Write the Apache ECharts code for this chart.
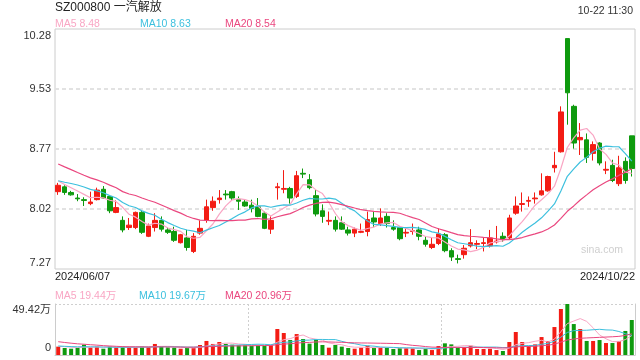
<!DOCTYPE html>
<html><head><meta charset="utf-8">
<script src="https://cdn.jsdelivr.net/npm/echarts@6/dist/echarts.min.js"></script>
<style>html,body{margin:0;padding:0;background:#fff}#c{width:640px;height:360px}</style>
</head><body><div id="c"></div>
<script>
const dates = ['06-07','06-11','06-12','06-13','06-14','06-17','06-18','06-19','06-20','06-21','06-24','06-25','06-26','06-27','06-28',
'07-01','07-02','07-03','07-04','07-05','07-08','07-09','07-10','07-11','07-12','07-15','07-16','07-17','07-18','07-19','07-22','07-23','07-24','07-25','07-26','07-29','07-30','07-31',
'08-01','08-02','08-05','08-06','08-07','08-08','08-09','08-12','08-13','08-14','08-15','08-16','08-19','08-20','08-21','08-22','08-23','08-26','08-27','08-28','08-29','08-30',
'09-02','09-03','09-04','09-05','09-06','09-09','09-10','09-11','09-12','09-13','09-18','09-19','09-20','09-23','09-24','09-25','09-26','09-27','09-30',
'10-08','10-09','10-10','10-11','10-14','10-15','10-16','10-17','10-18','10-21','10-22'];

const opens = [8.24,8.30,8.23,8.16,8.14,8.09,8.14,8.27,8.18,7.98,
7.88,7.79,7.79,7.98,7.68,7.79,7.88,7.76,7.74,7.60,
7.66,7.49,7.72,7.88,8.04,8.14,8.21,8.24,8.14,8.11,
8.07,8.05,7.97,7.77,8.29,8.27,8.28,8.18,8.47,8.39,
8.19,8.00,7.87,7.88,7.85,7.76,7.72,7.73,7.74,7.91,
7.84,7.93,7.79,7.79,7.72,7.74,7.76,7.63,7.54,7.59,
7.70,7.50,7.40,7.45,7.56,7.58,7.59,7.56,7.61,7.68,
7.66,7.97,8.08,8.12,8.15,8.20,8.25,8.54,8.74,10.16,
9.31,8.89,8.89,8.72,8.85,8.51,8.57,8.34,8.62,8.94];

const closes = [8.32,8.23,8.20,8.15,8.13,8.11,8.26,8.16,8.00,8.04,
7.76,7.82,7.98,7.73,7.81,7.88,7.77,7.73,7.63,7.70,
7.54,7.68,7.78,8.05,8.12,8.16,8.20,8.16,8.12,8.06,
8.03,7.93,7.78,7.88,8.30,8.28,8.16,8.44,8.46,8.29,
7.96,7.93,7.88,7.77,7.77,7.72,7.77,7.74,7.89,7.86,
7.91,7.84,7.77,7.65,7.73,7.75,7.68,7.58,7.58,7.71,
7.50,7.42,7.39,7.53,7.60,7.59,7.60,7.66,7.62,7.64,
7.91,8.06,8.09,8.13,8.16,8.25,8.43,8.57,9.24,9.48,
8.85,8.92,8.67,8.83,8.60,8.52,8.38,8.54,8.38,8.53];

const lows = [8.20,8.20,8.19,8.12,8.06,8.07,8.13,8.15,7.97,7.97,
7.73,7.76,7.77,7.71,7.67,7.74,7.74,7.71,7.61,7.59,
7.50,7.47,7.70,7.85,8.00,8.09,8.14,8.13,8.01,8.05,
7.98,7.92,7.77,7.71,8.14,8.22,8.09,8.16,8.41,8.27,
7.93,7.85,7.82,7.74,7.76,7.69,7.67,7.72,7.68,7.80,
7.81,7.79,7.75,7.63,7.67,7.70,7.63,7.55,7.52,7.57,
7.48,7.37,7.34,7.40,7.54,7.52,7.49,7.54,7.59,7.61,
7.64,7.95,7.99,8.05,8.09,8.19,8.24,8.48,8.73,9.08,
8.78,8.70,8.60,8.63,8.57,8.46,8.36,8.31,8.34,8.43];

const highs = [8.35,8.32,8.25,8.21,8.17,8.24,8.29,8.31,8.19,8.13,
7.93,7.91,7.99,8.00,7.84,7.97,7.93,7.79,7.80,7.71,
7.76,7.72,7.88,8.14,8.18,8.26,8.26,8.25,8.18,8.14,
8.14,8.16,7.99,7.93,8.35,8.51,8.30,8.50,8.53,8.46,
8.26,8.08,7.99,7.93,7.93,7.80,7.79,7.84,7.99,7.99,
8.03,7.97,7.88,7.80,7.78,7.84,7.80,7.68,7.66,7.78,
7.72,7.53,7.45,7.57,7.77,7.63,7.66,7.76,7.81,7.73,
7.95,8.18,8.23,8.18,8.23,8.47,8.44,8.74,9.31,10.16,
9.33,9.10,8.97,8.87,8.86,8.62,8.64,8.69,8.67,8.94];

// closes of the 19 sessions before the first shown day (estimated, only feed the moving averages)
const prevCloses = [8.95,8.90,8.86,8.82,8.78,8.76,8.74,8.72,8.70,8.74,8.42,8.36,8.34,8.38,8.40,8.45,8.40,8.36,8.34];

// volume in 万手
const volumes = [8.1,6.8,6.1,6.8,10.0,7.4,8.1,6.1,8.4,7.4,
8.1,7.4,7.1,8.1,7.8,10.7,8.1,7.4,7.1,6.1,
6.8,7.1,9.7,13.6,10.7,12.6,10.7,10.0,9.4,9.4,
9.0,9.4,8.7,9.4,25.2,21.3,14.5,20.3,15.5,11.0,
15.2,9.7,7.1,9.7,8.1,6.8,6.1,7.1,9.0,6.8,
7.1,7.1,5.8,6.8,6.8,6.5,4.8,6.1,4.8,8.7,
11.3,10.3,7.1,7.8,9.0,5.8,5.8,6.1,4.8,3.9,
12.6,22.3,12.6,8.7,10.3,17.4,13.6,27.1,44.6,49.42,
30.0,25.2,13.6,13.6,14.5,11.6,11.6,13.6,23.3,33.9];
const prevVolumes = [22,20,19,18,17,16,16,15,14,14,9.5,9.0,8.8,9.2,8.4,8.5,8.6,8.4,8.5];

const priceMin = 7.27, priceMax = 10.28;
const priceTickLabels = ['7.27','8.02','8.77','9.53','10.28'];
const volMax = 49.42;
const volTickLabels = ['0','49.42万'];
const maNames = ['MA5','MA10','MA20'];
const maPeriods = [5,10,20];
const maLegend = ['8.48','8.63','8.54'];
const volMaLegend = ['19.44万','19.67万','20.96万'];
const titleText = 'SZ000800 一汽解放';
const timeText = '10-22 11:30';
const startText = '2024/06/07', endText = '2024/10/22';
const watermark = 'sina.com';

const RED = '#f31c14', GREEN = '#0e9a0e';
const MA_COLORS = ['#f9a6c4','#3dc0de','#ea477f'];
const FONT = '"Liberation Sans", Arial, "Noto Sans CJK SC", sans-serif';

function movingAvg(prev, vals, n) {
  const all = prev.concat(vals), off = prev.length;
  return vals.map((_, i) => { let s = 0; for (let k = 0; k < n; k++) s += all[off + i - k]; return +(s / n).toFixed(4); });
}
const priceTicks = priceTickLabels.map((_, k) => priceMin + k * (priceMax - priceMin) / (priceTickLabels.length - 1));
const volTicks = [0, volMax];

const candleData = opens.map((o, i) => [o, closes[i], lows[i], highs[i]]);
const volData = volumes.map((v, i) => ({ value: v, itemStyle: { color: closes[i] > opens[i] ? RED : GREEN } }));

function tickLabelFmt(ticks, labels) {
  return function (v) {
    let best = 0;
    ticks.forEach((t, k) => { if (Math.abs(t - v) < Math.abs(ticks[best] - v)) best = k; });
    if (best === ticks.length - 1) return '{t|' + labels[best] + '}';
    if (best === 0) return '{b|' + labels[best] + '}';
    return '{m|' + labels[best] + '}';
  };
}
const lblBase = { fontSize: 11, color: '#333', fontFamily: FONT };
const richPrice = { t: Object.assign({ padding: [14, 0, 0, 0] }, lblBase), b: Object.assign({ padding: [0, 0, 12, 0] }, lblBase), m: Object.assign({}, lblBase) };
const richVol = { t: Object.assign({ padding: [12, 0, 0, 0] }, lblBase), b: Object.assign({ padding: [0, 0, 14, 0] }, lblBase), m: Object.assign({}, lblBase) };

const series = [{
  type: 'candlestick', xAxisIndex: 0, yAxisIndex: 0, data: candleData, barWidth: 5,
  itemStyle: { color: RED, color0: GREEN, borderColor: RED, borderColor0: GREEN, borderWidth: 1 }
}];
maPeriods.forEach((n, k) => series.push({
  type: 'line', xAxisIndex: 0, yAxisIndex: 0, data: movingAvg(prevCloses, closes, n), symbol: 'none',
  lineStyle: { width: 1.2, color: MA_COLORS[k] }, itemStyle: { color: MA_COLORS[k] }
}));
series.push({ type: 'bar', xAxisIndex: 1, yAxisIndex: 1, data: volData, barWidth: 4 });
maPeriods.forEach((n, k) => series.push({
  type: 'line', xAxisIndex: 1, yAxisIndex: 1, data: movingAvg(prevVolumes, volumes, n), symbol: 'none',
  lineStyle: { width: 1, color: MA_COLORS[k] }, itemStyle: { color: MA_COLORS[k] }
}));

const graphic = [];
function txt(text, x, y, size, color, align) {
  graphic.push({ type: 'text', x: x, y: y, silent: true,
    style: { text: text, fontSize: size, fontFamily: FONT, fill: color, align: align || 'left', verticalAlign: 'middle' } });
}
txt(titleText, 55, 8, 12, '#222');
txt(timeText, 633, 11, 10.5, '#333', 'right');
const legX = [55, 140, 225];
maNames.forEach((n, k) => txt(n + ' ' + maLegend[k], legX[k], 24, 10.5, MA_COLORS[k]));
txt(startText, 55, 277, 11, '#222');
txt(endText, 635, 277, 11, '#222', 'right');
const vlegX = [55, 139, 225];
maNames.forEach((n, k) => txt(n + ' ' + volMaLegend[k], vlegX[k], 296, 10.5, MA_COLORS[k]));
txt(watermark, 623, 250, 10.5, '#cfcfcf', 'right');

const chart = echarts.init(document.getElementById('c'), null, { renderer: 'canvas' });
chart.setOption({
  animation: false,
  backgroundColor: '#fff',
  textStyle: { fontFamily: FONT },
  grid: [
    { left: 55, top: 29, width: 580, height: 240, show: true, borderColor: '#cccccc', borderWidth: 1, backgroundColor: 'transparent' },
    { left: 55, top: 304, width: 580, height: 51, show: false }
  ],
  xAxis: [
    { type: 'category', gridIndex: 0, data: dates, boundaryGap: true, axisLine: { show: false }, axisTick: { show: false }, axisLabel: { show: false }, splitLine: { show: false } },
    { type: 'category', gridIndex: 1, data: dates, boundaryGap: true, axisLine: { show: true, lineStyle: { color: '#cccccc' } }, axisTick: { show: false }, axisLabel: { show: false },
      splitLine: { show: true, interval: function (i) { return i > 0 && i % 30 === 0; }, lineStyle: { color: '#cfcfcf', type: [2, 2], width: 1 } } }
  ],
  yAxis: [
    { type: 'value', gridIndex: 0, min: priceMin, max: priceMax, scale: true,
      axisLine: { show: false }, axisTick: { show: false, customValues: priceTicks },
      axisLabel: { customValues: priceTicks, formatter: tickLabelFmt(priceTicks, priceTickLabels), rich: richPrice, margin: 4 },
      splitLine: { show: true, showMinLine: false, showMaxLine: false, lineStyle: { color: '#e2e2e2', type: [4, 3], width: 2 } } },
    { type: 'value', gridIndex: 1, min: 0, max: volMax,
      axisLine: { show: true, lineStyle: { color: '#cccccc' } }, axisTick: { show: false, customValues: volTicks },
      axisLabel: { customValues: volTicks, formatter: tickLabelFmt(volTicks, volTickLabels), rich: richVol, margin: 4 },
      splitLine: { show: true, lineStyle: { color: '#cfcfcf', type: [2, 2], width: 1 } } },
    { type: 'value', gridIndex: 1, position: 'right', min: 0, max: volMax,
      axisLine: { show: true, lineStyle: { color: '#cccccc' } }, axisTick: { show: false }, axisLabel: { show: false }, splitLine: { show: false } }
  ],
  graphic: graphic,
  series: series
});
</script></body></html>
